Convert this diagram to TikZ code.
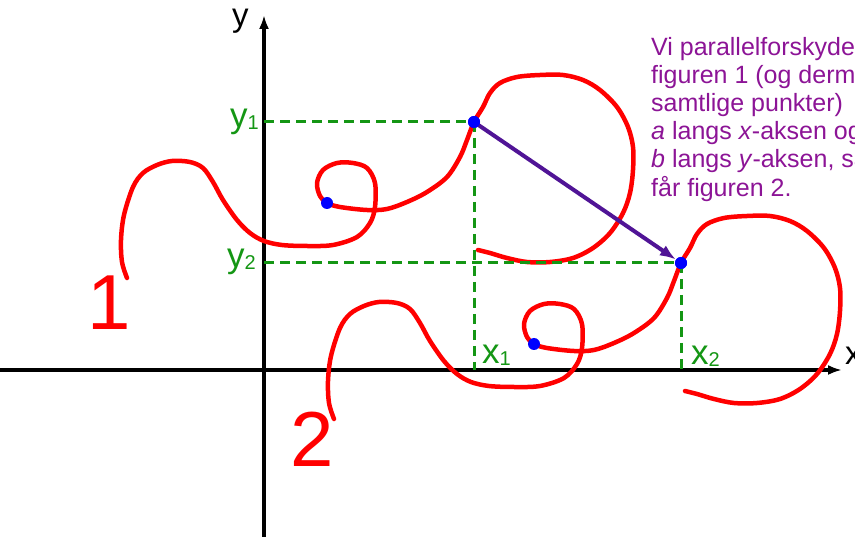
\documentclass[tikz,border=0pt]{standalone}
\usepackage{fontspec}
\setmainfont{Liberation Sans}
\usetikzlibrary{arrows.meta}
\definecolor{fred}{RGB}{255,0,0}
\definecolor{fgreen}{RGB}{20,150,20}
\definecolor{fpurple}{RGB}{140,20,150}
\definecolor{farrow}{RGB}{80,20,150}
\definecolor{fblue}{RGB}{0,0,255}
\newcommand\lowsub[1]{\raisebox{-2pt}{\fontsize{20}{20}\selectfont #1}}
\begin{document}
\begin{tikzpicture}[x=1pt,y=-1pt,
 axisline/.style={line width=4pt, -{Latex[length=14pt,width=10pt]}},
 guide/.style={fgreen, line width=3pt, dash pattern=on 10pt off 6pt},
 redline/.style={fred, line width=4.5pt, line cap=round, line join=round},
 bluedot/.style={circle, fill=fblue, inner sep=0pt, minimum size=12pt},
 glabel/.style={fgreen, inner sep=0pt, anchor=base west, font=\fontsize{35}{35}\selectfont},
 alabel/.style={black, inner sep=0pt, anchor=base west, font=\fontsize{33}{33}\selectfont},
 ptext/.style={fpurple, inner sep=0pt, anchor=base west, font=\fontsize{25}{28}\selectfont},
 bignum/.style={fred, inner sep=0pt, anchor=base west, font=\fontsize{78}{78}\selectfont},
 shiftarrow/.style={farrow, line width=4pt, -{Latex[length=16pt,width=12pt]}},
 wormfig/.pic={
  \draw[redline] plot[smooth, tension=0.55] coordinates {
   (127,278) (122,262) (121,240) (124,215) (133,187) (143,173) (157,165)
   (172,161) (190,162) (203,168) (213,182) (223,200) (237,220) (250,233)
   (264,241) (282,245) (307,246) (333,245) (357,237) (370,223) (375,207)
   (375,183) (367,168) (353,163) (337,163) (323,170) (317,183) (320,196)
   (327,203) (340,207) (367,210) (387,209) (407,202) (427,192) (447,177)
   (460,157) (467,140) (474,122) (483,107) (490,93) (500,83) (517,77)
   (540,75) (563,75) (583,80) (600,90) (617,107) (628,127) (633,147)
   (633,170) (630,193) (623,213) (610,233) (593,248) (573,258) (550,262)
   (527,262) (507,258) (490,253) (478,250)};
 }]
\path[use as bounding box] (0,0) rectangle (855,537);
\clip (0,0) rectangle (855,537);

% axes
\coordinate (xs) at (0,370);
\coordinate (xe) at (842,370);
\coordinate (ys) at (264,540);
\coordinate (ye) at (264,15);
\draw[axisline] (xs) -- (xe);
\draw[axisline] (ys) -- (ye);
\node[alabel] (ylab) at (232,27) {y};
\node[alabel] (xlab) at (845,365) {x};

% figures
\pic (f1) at (0,0) {wormfig};
\pic (f2) at (207,141) {wormfig};

% points
\node[bluedot] (P1) at (474,122) {};
\node[bluedot] (P2) at (681,263) {};
\node[bluedot] (D1) at (327,203) {};
\node[bluedot] (D2) at (534,344) {};

% guides
\coordinate (Y1) at (264,122);
\coordinate (Y2) at (264,263);
\coordinate (X1) at (474,370);
\coordinate (X2) at (681,370);
\draw[guide] (Y1) -- (P1.center);
\draw[guide] (P1.center) -- (X1);
\draw[guide] (Y2) -- (P2.center);
\draw[guide] (P2.center) -- (X2);

% translation arrow
\draw[shiftarrow] (P1.center) -- (P2);
\node[bluedot] (P1b) at (P1) {};
\node[bluedot] (P2b) at (P2) {};

% labels
\node[glabel] (ly1) at (230,128) {y\lowsub{1}};
\node[glabel] (ly2) at (227,268) {y\lowsub{2}};
\node[glabel] (lx1) at (482,364) {x\lowsub{1}};
\node[glabel] (lx2) at (691,365) {x\lowsub{2}};

\node[bignum] (n1) at (87,330) {1};
\node[bignum] (n2) at (290,467) {2};

% text
\node[ptext] (t1) at (651,56) {Vi parallelforskyder};
\node[ptext] (t2) at (651,84) {figuren 1 (og dermed};
\node[ptext] (t3) at (651,112) {samtlige punkter)};
\node[ptext] (t4) at (651,140) {\textit{a} langs \textit{x}-aksen og};
\node[ptext] (t5) at (651,168) {\textit{b} langs \textit{y}-aksen, så};
\node[ptext] (t6) at (651,197) {får figuren 2.};
\end{tikzpicture}
\end{document}
